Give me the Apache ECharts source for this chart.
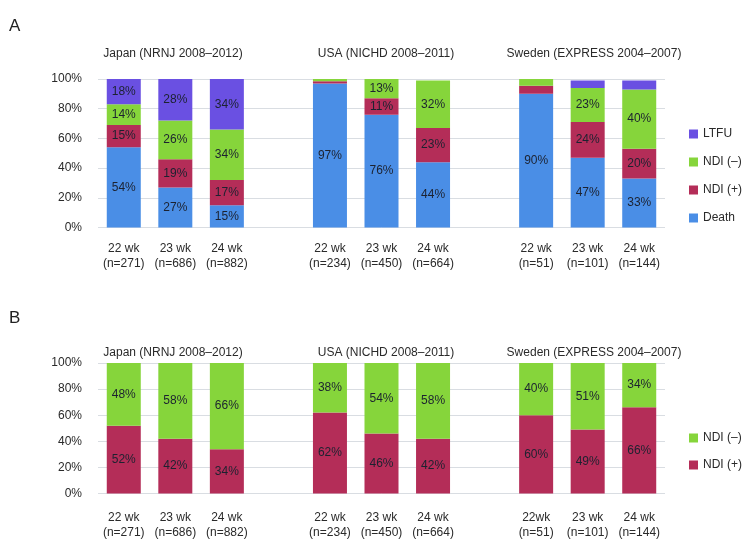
<!DOCTYPE html>
<html>
<head>
<meta charset="utf-8">
<script src="https://cdn.jsdelivr.net/npm/echarts@6/dist/echarts.min.js"></script>
<style>html,body{margin:0;padding:0;background:#fff}#c{width:756px;height:555px}</style>
</head>
<body>
<div id="c"></div>
<script>
// ---- data ----
const groupTitles = ['Japan (NRNJ 2008–2012)', 'USA (NICHD 2008–2011)', 'Sweden (EXPRESS 2004–2007)'];
const catsA = ['22 wk\n(n=271)', '23 wk\n(n=686)', '24 wk\n(n=882)',
               '22 wk\n(n=234)', '23 wk\n(n=450)', '24 wk\n(n=664)',
               '22 wk\n(n=51)', '23 wk\n(n=101)', '24 wk\n(n=144)'];
const catsB = ['22 wk\n(n=271)', '23 wk\n(n=686)', '24 wk\n(n=882)',
               '22 wk\n(n=234)', '23 wk\n(n=450)', '24 wk\n(n=664)',
               '22wk\n(n=51)', '23 wk\n(n=101)', '24 wk\n(n=144)'];
const yTicks = [0, 20, 40, 60, 80, 100];
// Panel A
const deathA  = [54, 27, 15, 97, 76, 44, 90, 47, 33];
const ndiPosA = [15, 19, 17, 1.5, 11, 23, 5.5, 24, 20];
const ndiNegA = [14, 26, 34, 1.5, 13, 32, 4.5, 23, 40];
const ltfuA   = [18, 28, 34, 0, 0, 0, 0, 5, 6];
// Panel B
const ndiPosB = [52, 42, 34, 62, 46, 42, 60, 49, 66];
const ndiNegB = [48, 58, 66, 38, 54, 58, 40, 51, 34];

// insert an empty slot between country groups
function withGaps(arr, blank) {
  const out = [];
  arr.forEach((v, i) => { if (i > 0 && i % 3 === 0) out.push(blank); out.push(v); });
  return out;
}

const C = { death: '#4a8ee6', pos: '#b42d58', neg: '#86d53b', ltfu: '#6a50e2' };
const FONT = 'Liberation Sans, Arial, Helvetica, sans-serif';
const labelCfg = {
  show: true, position: 'inside', fontSize: 12, fontFamily: FONT, color: '#1c2230',
  formatter: p => (p.value >= 10 ? Math.round(p.value) + '%' : '')
};

function mkSeries(name, data, color, idx, stack) {
  return {
    name, type: 'bar', stack, xAxisIndex: idx, yAxisIndex: idx,
    data: withGaps(data, '-'), barWidth: 34, itemStyle: { color },
    label: labelCfg, clip: true, emphasis: { disabled: true }, animation: false
  };
}

const gridL = 98, gridW = 567;
function xAxisCfg(idx, cats, margin) {
  return {
    type: 'category', gridIndex: idx, data: withGaps(cats, ''),
    axisLine: { show: false }, axisTick: { show: false },
    axisLabel: { interval: 0, fontSize: 12, fontFamily: FONT, color: '#2a2a2a', lineHeight: 15, margin }
  };
}
function yAxisCfg(idx) {
  return {
    type: 'value', gridIndex: idx, min: 0, max: 100, interval: 20,
    axisLine: { show: false }, axisTick: { show: false },
    axisLabel: { formatter: v => yTicks.includes(v) ? v + '%' : '', fontSize: 12, fontFamily: FONT, color: '#2a2a2a', margin: 16 },
    splitLine: { lineStyle: { color: '#d9dde2', width: 1 } }
  };
}

const titleX = [173, 386, 594];
const graphics = [
  { type: 'text', left: 9, top: 18, style: { text: 'A', fontSize: 17, fontFamily: FONT, fill: '#222' } },
  { type: 'text', left: 9, top: 310, style: { text: 'B', fontSize: 17, fontFamily: FONT, fill: '#222' } }
];
groupTitles.forEach((t, i) => {
  graphics.push({ type: 'text', x: titleX[i], y: 54, style: { text: t, fontSize: 12, fontFamily: FONT, fill: '#2a2a2a', align: 'center', verticalAlign: 'middle' } });
  graphics.push({ type: 'text', x: titleX[i], y: 353, style: { text: t, fontSize: 12, fontFamily: FONT, fill: '#2a2a2a', align: 'center', verticalAlign: 'middle' } });
});

const chart = echarts.init(document.getElementById('c'), null, { renderer: 'canvas' });
chart.setOption({
  animation: false,
  backgroundColor: '#fff',
  grid: [
    { left: gridL, width: gridW, top: 79, height: 148.5 },
    { left: gridL, width: gridW, top: 363, height: 130.5 }
  ],
  xAxis: [xAxisCfg(0, catsA, 14), xAxisCfg(1, catsB, 17)],
  yAxis: [yAxisCfg(0), yAxisCfg(1)],
  legend: [
    { orient: 'vertical', left: 684, top: 123, itemWidth: 9, itemHeight: 9, itemGap: 16, icon: 'rect',
      data: ['LTFU', 'NDI (–)', 'NDI (+)', 'Death'], textStyle: { fontSize: 12, fontFamily: FONT, color: '#2a2a2a' }, selectedMode: false },
    { orient: 'vertical', left: 684, top: 427, itemWidth: 9, itemHeight: 9, itemGap: 15, icon: 'rect',
      data: ['NDI (–)', 'NDI (+)'], textStyle: { fontSize: 12, fontFamily: FONT, color: '#2a2a2a' }, selectedMode: false }
  ],
  graphic: graphics,
  series: [
    mkSeries('Death', deathA, C.death, 0, 'a'),
    mkSeries('NDI (+)', ndiPosA, C.pos, 0, 'a'),
    mkSeries('NDI (–)', ndiNegA, C.neg, 0, 'a'),
    mkSeries('LTFU', ltfuA, C.ltfu, 0, 'a'),
    mkSeries('NDI (+)', ndiPosB, C.pos, 1, 'b'),
    mkSeries('NDI (–)', ndiNegB, C.neg, 1, 'b')
  ]
});
</script>
</body>
</html>
